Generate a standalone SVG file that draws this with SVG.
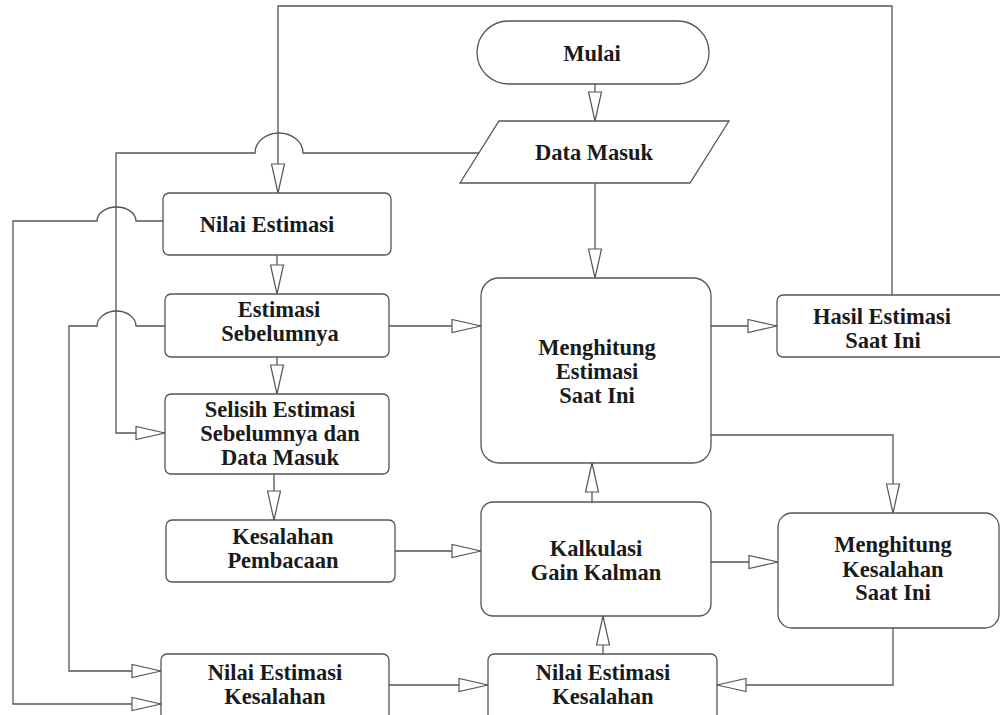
<svg xmlns="http://www.w3.org/2000/svg" width="1000" height="715" viewBox="0 0 1000 715">
<style>
.box{fill:#fff;stroke:#555;stroke-width:1.3}
.lbl{font-family:"Liberation Serif","Times New Roman",serif;font-weight:bold;font-size:22.5px;fill:#1a1a1a;text-anchor:middle}
.con{fill:none;stroke:#555;stroke-width:1.3;marker-end:url(#ah)}
.con2{fill:none;stroke:#555;stroke-width:1.3}
</style>
<defs>
<marker id="ah" viewBox="0 0 31 15" refX="30" refY="7.5" markerWidth="31" markerHeight="15" markerUnits="userSpaceOnUse" orient="auto">
<path d="M1,1 L30,7.5 L1,14 Z" fill="#fff" stroke="#555" stroke-width="1.2"/>
</marker>
</defs>
<rect width="1000" height="715" fill="#fff"/>
<g id="connectors">
<path class="con" d="M595,84 V121"/>
<path class="con" d="M595,183 V278"/>
<path class="con" d="M479,153 H303 A24,20 0 0 0 255,153 H116 V433 H165"/>
<path class="con" d="M892,295 V6 H278 V193"/>
<path class="con" d="M277,255 V294"/>
<path class="con" d="M277,357 V394"/>
<path class="con" d="M274,474 V520"/>
<path class="con" d="M163,221 H136 A19.5,14 0 0 0 97,221 H13 V704 H161"/>
<path class="con" d="M165,326 H136 A19.5,15 0 0 0 97,326 H69 V671 H161"/>
<path class="con" d="M389,326 H481"/>
<path class="con" d="M395,551 H481"/>
<path class="con" d="M389,685 H488"/>
<path class="con" d="M603,654 V616"/>
<path class="con" d="M592,502 V463"/>
<path class="con" d="M711,326 H777"/>
<path class="con" d="M711,435 H893 V513"/>
<path class="con" d="M711,562 H778"/>
<path class="con" d="M893,628 V685 H717"/>
</g>
<g id="mulai">
<rect class="box" x="477" y="21" width="232" height="63" rx="31.5"/>
<text class="lbl" x="592" y="61">Mulai</text>
</g>
<g id="data-masuk">
<polygon class="box" points="499,121 729,121 690,183 460,183"/>
<text class="lbl" x="594" y="160">Data Masuk</text>
</g>
<g id="nilai-estimasi">
<rect class="box" x="163" y="193" width="228" height="62" rx="6"/>
<text class="lbl" x="267" y="232">Nilai Estimasi</text>
</g>
<g id="estimasi-sebelumnya">
<rect class="box" x="165" y="294" width="224" height="63" rx="6"/>
<text class="lbl" x="279" y="317">Estimasi</text>
<text class="lbl" x="280" y="341">Sebelumnya</text>
</g>
<g id="selisih">
<rect class="box" x="165" y="394" width="224" height="80" rx="6"/>
<text class="lbl" x="280" y="417">Selisih Estimasi</text>
<text class="lbl" x="280" y="441">Sebelumnya dan</text>
<text class="lbl" x="280" y="465">Data Masuk</text>
</g>
<g id="kesalahan-pembacaan">
<rect class="box" x="166" y="520" width="229" height="62" rx="6"/>
<text class="lbl" x="283" y="544">Kesalahan</text>
<text class="lbl" x="283" y="568">Pembacaan</text>
</g>
<g id="nilai-estimasi-kesalahan-1">
<rect class="box" x="161" y="654" width="228" height="70" rx="6"/>
<text class="lbl" x="275" y="680">Nilai Estimasi</text>
<text class="lbl" x="275" y="704">Kesalahan</text>
</g>
<g id="menghitung-estimasi">
<rect class="box" x="481" y="278" width="230" height="185" rx="18"/>
<text class="lbl" x="597" y="355">Menghitung</text>
<text class="lbl" x="597" y="379">Estimasi</text>
<text class="lbl" x="597" y="403">Saat Ini</text>
</g>
<g id="hasil-estimasi">
<rect class="box" x="777" y="295" width="240" height="62" rx="6"/>
<text class="lbl" x="882" y="324">Hasil Estimasi</text>
<text class="lbl" x="883" y="348">Saat Ini</text>
</g>
<g id="kalkulasi">
<rect class="box" x="481" y="502" width="230" height="114" rx="12"/>
<text class="lbl" x="596" y="556">Kalkulasi</text>
<text class="lbl" x="596" y="580">Gain Kalman</text>
</g>
<g id="menghitung-kesalahan">
<rect class="box" x="778" y="513" width="221" height="115" rx="14"/>
<text class="lbl" x="893" y="552">Menghitung</text>
<text class="lbl" x="893" y="577">Kesalahan</text>
<text class="lbl" x="893" y="600">Saat Ini</text>
</g>
<g id="nilai-estimasi-kesalahan-2">
<rect class="box" x="488" y="654" width="229" height="70" rx="6"/>
<text class="lbl" x="603" y="680">Nilai Estimasi</text>
<text class="lbl" x="603" y="704">Kesalahan</text>
</g>
</svg>
